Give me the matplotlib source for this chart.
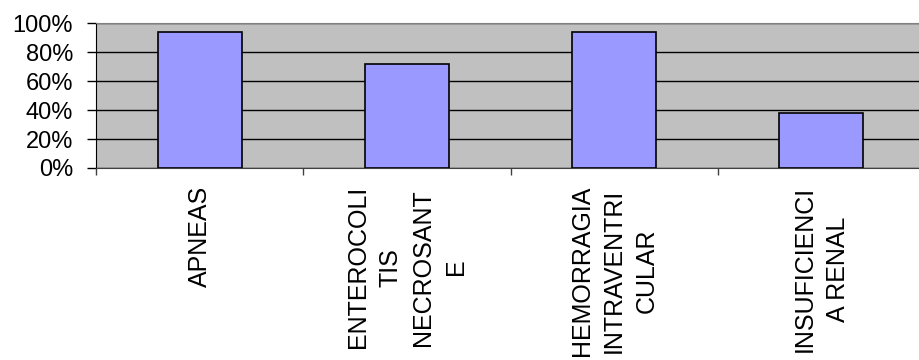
import matplotlib
matplotlib.use('Agg')
from matplotlib import pyplot as plt
from matplotlib.ticker import PercentFormatter

categories = ['APNEAS', 'ENTEROCOLI\nTIS\nNECROSANT\nE', 'HEMORRAGIA\nINTRAVENTRI\nCULAR',
              'INSUFICIENCI\nA RENAL']
values = [94, 72, 94, 38]
y_ticks = [0, 20, 40, 60, 80, 100]

fig = plt.figure(figsize=(9.19, 3.6), dpi=100)
ax = fig.add_axes([96 / 919, 192 / 360, 829 / 919, 144.7 / 360])
ax.set_facecolor('#C0C0C0')

x = list(range(len(categories)))
ax.bar(x, values, width=0.405, color='#9999FF', edgecolor='black', linewidth=1.2, zorder=3)

ax.set_xlim(-0.5, len(categories) - 0.5)
ax.set_ylim(0, 100)
ax.set_yticks(y_ticks)
ax.yaxis.set_major_formatter(PercentFormatter(decimals=0))
ax.grid(axis='y', color='black', linewidth=1, zorder=1)

# category labels at the centers, ticks at the boundaries
ax.set_xticks(x)
ax.set_xticklabels(categories, rotation=90, va='top', ha='center', multialignment='center',
                   family='Liberation Sans', fontsize=18, linespacing=1.45)
ax.set_xticks([i - 0.5 for i in range(len(categories) + 1)], minor=True)
ax.tick_params(axis='x', which='major', length=0, pad=13)
ax.tick_params(axis='x', which='minor', length=5, width=1, color='#404040', direction='out')
ax.tick_params(axis='y', length=6.5, width=1, direction='out', pad=10)
for lab in ax.get_yticklabels():
    lab.set_family('Liberation Sans')
    lab.set_fontsize(17)

ax.spines['top'].set_color('#808080')
ax.spines['right'].set_visible(False)
ax.spines['bottom'].set_color('#404040')
ax.spines['left'].set_color('black')

fig.savefig('out.png', dpi=100)
